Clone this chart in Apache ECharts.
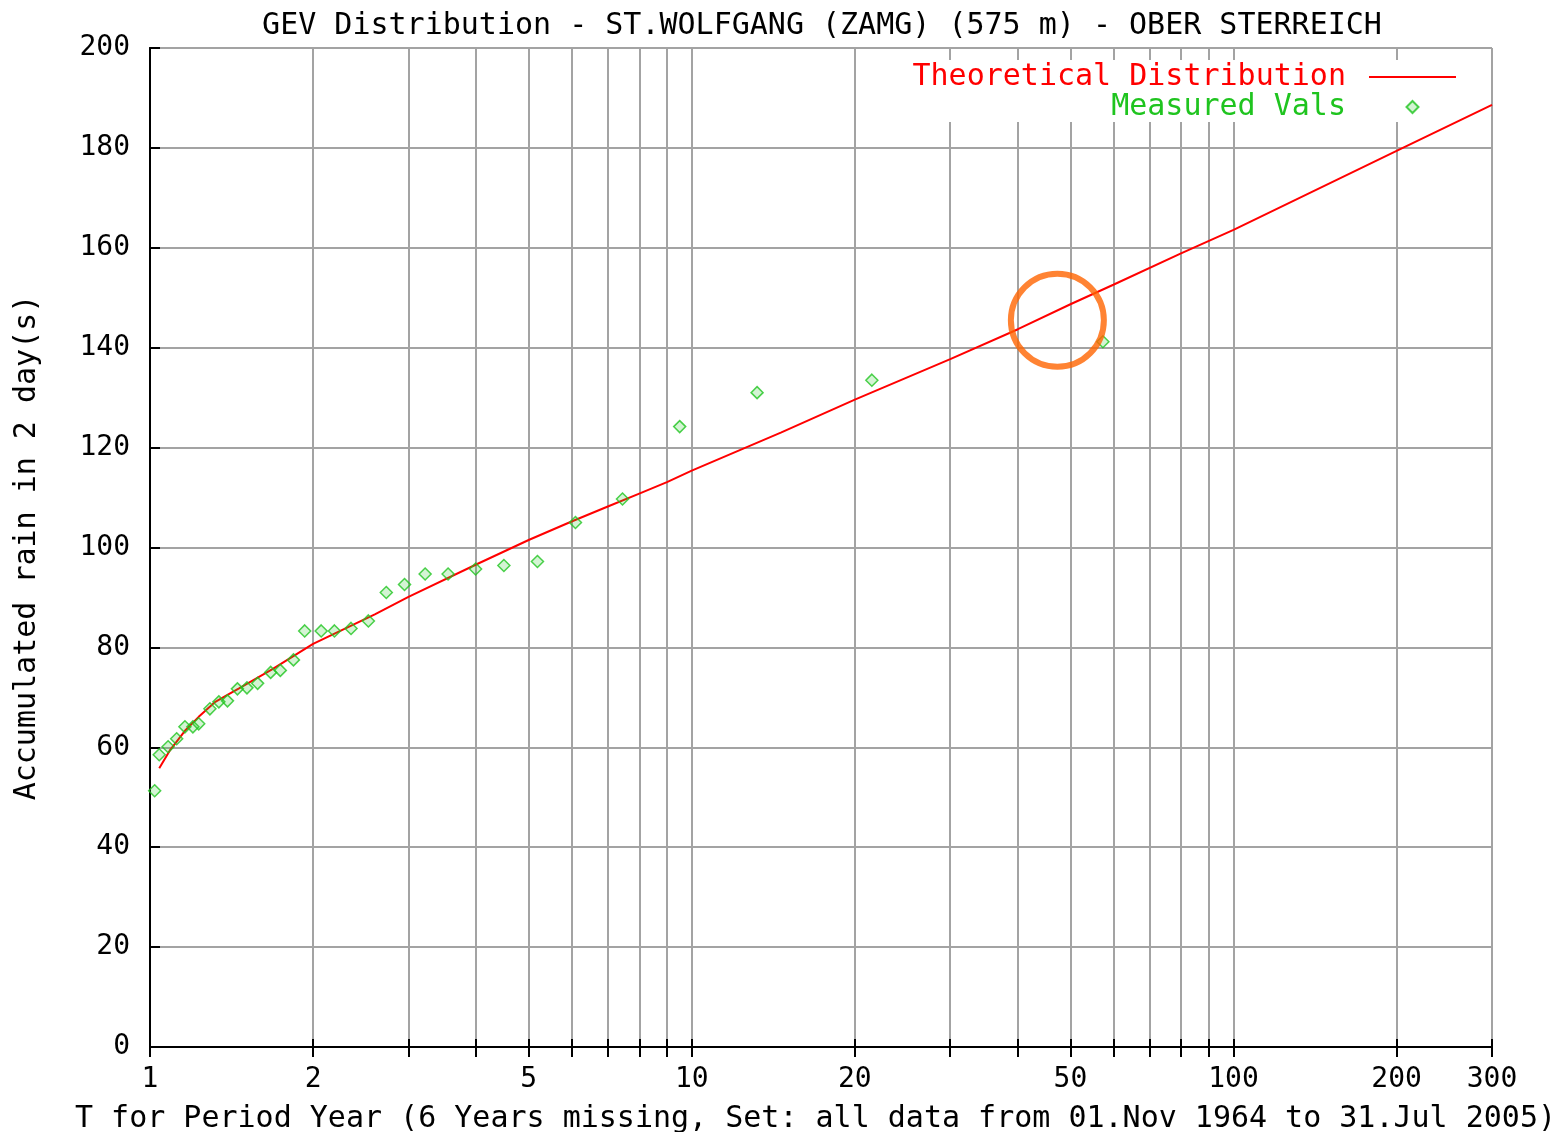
<!DOCTYPE html>
<html>
<head>
<meta charset="utf-8">
<script src="https://cdn.jsdelivr.net/npm/echarts@6/dist/echarts.min.js"></script>
</head>
<body style="margin:0;width:1557px;height:1132px;background:#fff">
<div id="container" style="width:1557px;height:1132px"></div>
<script type="text/javascript">
// measured annual maxima (return period T, rain mm)
var measuredT = [1.02, 1.04, 1.08, 1.12, 1.16, 1.20, 1.23, 1.29, 1.34, 1.39, 1.45, 1.51, 1.58, 1.67, 1.74, 1.84,
  1.93, 2.07, 2.19, 2.35, 2.53, 2.73, 2.95, 3.22, 3.55, 3.99, 4.50, 5.19, 6.10, 7.45, 9.50, 13.2, 21.5, 57.4];
var measuredRain = [51.3, 58.5, 60.1, 61.7, 64.1, 64.1, 64.7, 67.7, 69.1, 69.3, 71.7, 71.9, 72.8, 75.0, 75.4, 77.5,
  83.3, 83.3, 83.3, 83.8, 85.3, 91.0, 92.6, 94.7, 94.7, 95.7, 96.4, 97.2, 105.0, 109.7, 124.2, 131.0, 133.5, 141.2];

// theoretical GEV curve
var curveT = [1.04, 1.09, 1.16, 1.23, 1.32, 1.39, 1.46, 1.68, 2.0, 2.6, 3.0, 4.0, 5.0, 6.0, 7.0, 8.0, 9.0, 10,
  14.6, 20, 30, 40, 50, 60, 80, 100, 200, 300];
var curveRain = [55.8, 59.5, 63.3, 66.1, 69.1, 70.5, 71.8, 75.6, 80.7, 86.6, 90.1, 96.6, 101.5, 105.2, 108.2, 110.8, 113.1, 115.4,
  123.0, 129.6, 137.7, 143.7, 148.7, 152.6, 158.9, 163.6, 179.4, 188.6];

var xTickValues = [1, 2, 3, 4, 5, 6, 7, 8, 9, 10, 20, 30, 40, 50, 60, 70, 80, 90, 100, 200, 300];
var xLabelValues = [1, 2, 5, 10, 20, 50, 100, 200, 300];
var xMin = 1, xMax = 300;
var yMin = 0, yMax = 200, yStep = 20;

// orange ring drawn on the chart
var highlight = [47.3, 145.5];

var FONT = 'DejaVu Sans Mono';
var lg = function (v) { return Math.log10(v); };

var dom = document.getElementById('container');
var myChart = echarts.init(dom);

var pairs = function (xs, ys) {
  return xs.map(function (x, i) { return [lg(x), ys[i]]; });
};

var gridGray = '#a3a3a3';
// diamond centred in the 87x12 legend box (end points keep the box width)
var legendDiamond = 'path://M43.5,0L49.5,6L43.5,12L37.5,6Z M0,6L0,6.01 M87,6L87,6.01';

option = {
  animation: false,
  backgroundColor: '#fff',
  title: {
    text: 'GEV Distribution - ST.WOLFGANG (ZAMG) (575 m) - OBER STERREICH',
    left: 817,
    textAlign: 'center',
    top: 6,
    textStyle: { fontFamily: FONT, fontSize: 30, fontWeight: 'normal', color: '#000' }
  },
  graphic: [{
    type: 'text',
    left: 75,
    top: 1104,
    style: {
      text: 'T for Period Year (6 Years missing, Set: all data from 01.Nov 1964 to 31.Jul 2005)',
      font: '30px "DejaVu Sans Mono"',
      fill: '#000'
    }
  }],
  legend: {
    orient: 'vertical',
    right: 99,
    top: 60,
    align: 'right',
    padding: [2, 1, 0, 12],
    itemGap: 0,
    itemWidth: 87,
    itemHeight: 12,
    backgroundColor: '#fff',
    formatter: '{name} ',
    textStyle: { fontFamily: FONT, fontSize: 30, lineHeight: 29 },
    data: [
      { name: 'Theoretical Distribution', itemStyle: { opacity: 0 }, textStyle: { color: '#ff0000' } },
      { name: 'Measured Vals', icon: legendDiamond, textStyle: { color: '#1fc41f' } }
    ]
  },
  grid: {
    left: 150, right: 65, top: 48, bottom: 85,
    containLabel: false,
    outerBoundsMode: 'none'
  },
  xAxis: [{
    type: 'value',
    min: lg(xMin),
    max: lg(xMax),
    position: 'bottom',
    axisLine: { lineStyle: { color: '#000', width: 2 } },
    axisTick: { inside: true, length: 8, lineStyle: { color: '#000', width: 2 },
      customValues: xTickValues.map(lg) },
    axisLabel: {
      customValues: xLabelValues.map(lg),
      formatter: function (v) { return String(Math.round(Math.pow(10, v))); },
      fontFamily: FONT, fontSize: 28, color: '#000', margin: 19
    },
    splitLine: { show: true, lineStyle: { color: gridGray, width: 2 } }
  }, {
    type: 'value',
    min: lg(xMin),
    max: lg(xMax),
    position: 'top',
    axisLine: { lineStyle: { color: '#000', width: 2 } },
    axisTick: { inside: true, length: 10, lineStyle: { color: '#000', width: 2 },
      customValues: xTickValues.map(lg) },
    axisLabel: { show: false },
    splitLine: { show: false }
  }],
  yAxis: [{
    type: 'value',
    min: yMin,
    max: yMax,
    interval: yStep,
    name: 'Accumulated rain in 2 day(s)',
    nameLocation: 'middle',
    nameGap: 108,
    nameTextStyle: { fontFamily: FONT, fontSize: 30, color: '#000' },
    axisLine: { show: true, lineStyle: { color: '#000', width: 2 } },
    axisTick: { show: true, inside: true, length: 10, lineStyle: { color: '#000', width: 2 } },
    axisLabel: { fontFamily: FONT, fontSize: 28, color: '#000', margin: 20 },
    splitLine: { show: true, lineStyle: { color: gridGray, width: 2 } }
  }, {
    type: 'value',
    min: yMin,
    max: yMax,
    interval: yStep,
    position: 'right',
    axisLine: { show: true, lineStyle: { color: '#000', width: 2 } },
    axisTick: { show: false },
    axisLabel: { show: false },
    splitLine: { show: false }
  }],
  series: [{
    name: 'Theoretical Distribution',
    type: 'line',
    symbol: 'none',
    smooth: false,
    z: 5,
    lineStyle: { color: '#ff0000', width: 2 },
    itemStyle: { color: '#ff0000' },
    data: pairs(curveT, curveRain)
  }, {
    name: 'Measured Vals',
    type: 'scatter',
    symbol: 'diamond',
    symbolSize: 12,
    z: 5,
    itemStyle: { color: 'rgba(40,200,40,0.25)', borderColor: '#1fc41f', borderWidth: 1.5 },
    data: pairs(measuredT, measuredRain)
  }, {
    name: 'highlight',
    type: 'scatter',
    symbol: 'circle',
    symbolSize: 93,
    z: 6,
    silent: true,
    itemStyle: { color: 'rgba(0,0,0,0)', borderColor: '#ff6400', borderWidth: 6 },
    data: [[lg(highlight[0]), highlight[1]]]
  }]
};
myChart.setOption(option, true);
</script>
</body>
</html>
